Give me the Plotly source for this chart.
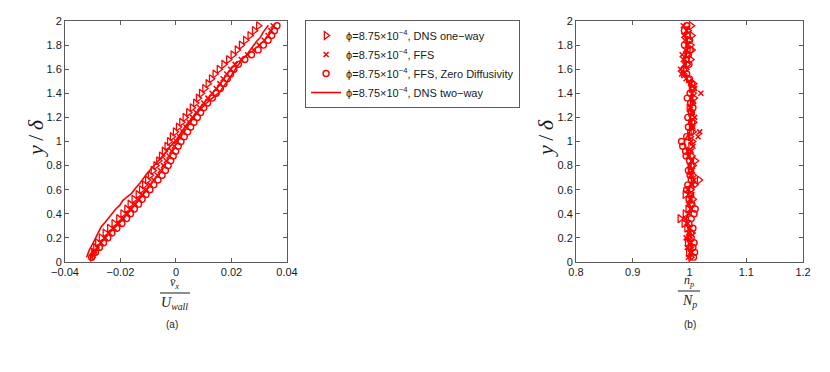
import plotly.graph_objects as go
from plotly.subplots import make_subplots

RED = "#ff0000"
FRAME = "#5a5a5a"

# wall-normal positions shared by the marker series
Y_POS = [0.04, 0.08, 0.12, 0.16, 0.20, 0.24, 0.28, 0.32, 0.36, 0.40,
         0.44, 0.48, 0.52, 0.56, 0.60, 0.64, 0.68, 0.72, 0.76, 0.80,
         0.84, 0.88, 0.92, 0.96, 1.00, 1.04, 1.08, 1.12, 1.16, 1.20,
         1.24, 1.28, 1.32, 1.36, 1.40, 1.44, 1.48, 1.52, 1.56, 1.60,
         1.64, 1.68, 1.72, 1.76, 1.80, 1.84, 1.88, 1.92, 1.96]

# (a) mean particle velocity / U_wall
VX_ONEWAY = [-0.0302, -0.0298, -0.0290, -0.0283, -0.0270, -0.0256, -0.0240, -0.0224, -0.0207, -0.0192,
             -0.0178, -0.0166, -0.0152, -0.0137, -0.0125, -0.0114, -0.0103, -0.0093, -0.0083, -0.0073,
             -0.0063, -0.0053, -0.0043, -0.0033, -0.0024, -0.0014, -0.0003, 0.0008, 0.0020, 0.0032,
             0.0045, 0.0058, 0.0070, 0.0080, 0.0091, 0.0103, 0.0115, 0.0127, 0.0140, 0.0155,
             0.0172, 0.0189, 0.0205, 0.0220, 0.0235, 0.0250, 0.0266, 0.0282, 0.0297]
VX_FFS = [-0.0303, -0.0294, -0.0283, -0.0270, -0.0255, -0.0240, -0.0223, -0.0206, -0.0190, -0.0175,
          -0.0161, -0.0147, -0.0133, -0.0119, -0.0106, -0.0093, -0.0080, -0.0067, -0.0056, -0.0045,
          -0.0035, -0.0025, -0.0015, -0.0006, 0.0002, 0.0013, 0.0025, 0.0036, 0.0048, 0.0060,
          0.0073, 0.0086, 0.0100, 0.0115, 0.0130, 0.0145, 0.0158, 0.0170, 0.0183, 0.0197,
          0.0213, 0.0235, 0.0258, 0.0280, 0.0300, 0.0318, 0.0332, 0.0342, 0.0350]
VX_FFS_ZD = [-0.0304, -0.0290, -0.0276, -0.0261, -0.0246, -0.0231, -0.0213, -0.0195, -0.0178, -0.0164,
             -0.0150, -0.0135, -0.0122, -0.0108, -0.0094, -0.0080, -0.0065, -0.0050, -0.0038, -0.0028,
             -0.0019, -0.0010, -0.0001, 0.0008, 0.0018, 0.0030, 0.0042, 0.0053, 0.0065, 0.0077,
             0.0089, 0.0100, 0.0114, 0.0131, 0.0145, 0.0160, 0.0173, 0.0185, 0.0197, 0.0209,
             0.0225, 0.0248, 0.0272, 0.0296, 0.0315, 0.0332, 0.0345, 0.0355, 0.0364]
Y_TWOWAY = [0.04, 0.10, 0.17, 0.22, 0.29, 0.33, 0.38, 0.44, 0.47, 0.51, 0.54, 0.57,
            0.62, 0.66, 0.73, 0.78, 0.84, 0.90, 0.96, 1.01, 1.08, 1.13, 1.20, 1.26,
            1.34, 1.41, 1.48, 1.55, 1.62, 1.68, 1.72, 1.78, 1.83, 1.86, 1.91, 1.965]
VX_TWOWAY = [-0.0322, -0.0312, -0.0296, -0.0284, -0.0270, -0.0255, -0.0238, -0.0217, -0.0203, -0.0192,
             -0.0176, -0.0160, -0.0143, -0.0128, -0.0106, -0.0086, -0.0062, -0.0040, -0.0020, 0.0000,
             0.0020, 0.0035, 0.0060, 0.0085, 0.0120, 0.0157, 0.0180, 0.0200, 0.0220, 0.0238,
             0.0255, 0.0273, 0.0290, 0.0303, 0.0315, 0.0333]

# (b) normalised particle number density
NP_ONEWAY = [1.002, 0.998, 1.001, 0.996, 0.999, 1.004, 0.995, 0.990, 0.983, 0.992,
             0.997, 1.003, 1.006, 0.992, 1.002, 1.009, 1.017, 1.006, 1.001, 1.006,
             1.010, 1.004, 0.999, 1.002, 1.005, 1.001, 1.006, 1.003, 1.007, 1.004,
             1.002, 0.999, 1.005, 1.008, 1.006, 1.003, 1.007, 0.998, 0.989, 0.993,
             0.996, 1.002, 0.995, 1.004, 1.002, 0.999, 1.004, 0.997, 1.003]
NP_FFS = [0.998, 1.004, 0.996, 1.003, 0.994, 0.998, 1.001, 0.997, 0.993, 0.999,
          1.002, 0.998, 1.001, 1.004, 0.997, 1.005, 1.008, 1.002, 1.005, 1.000,
          1.004, 0.998, 1.003, 1.006, 1.003, 1.015, 1.018, 1.006, 1.002, 1.009,
          1.005, 1.001, 1.006, 1.004, 1.020, 1.009, 1.002, 0.994, 0.986, 0.984,
          0.991, 0.989, 0.987, 0.993, 0.996, 0.992, 0.990, 0.995, 0.989]
NP_FFS_ZD = [1.007, 1.009, 1.006, 1.008, 1.003, 1.002, 1.006, 0.999, 1.003, 1.008,
             1.010, 1.004, 0.999, 1.002, 0.995, 0.997, 1.003, 1.001, 0.998, 1.003,
             1.000, 0.994, 0.993, 0.988, 0.986, 0.995, 1.002, 0.998, 1.004, 0.997,
             1.003, 1.006, 1.002, 0.996, 1.001, 1.006, 1.004, 1.000, 0.995, 0.990,
             0.999, 0.994, 0.998, 1.001, 0.991, 1.000, 0.996, 0.991, 0.995]
NP_TWOWAY = [1.003, 1.000, 1.004, 0.998, 1.001, 1.003, 0.997, 0.995, 0.994, 0.998,
             1.002, 1.000, 1.003, 0.999, 0.997, 1.001, 1.004, 1.002, 0.999, 1.001,
             1.003, 0.999, 0.996, 0.992, 0.991, 0.996, 1.000, 1.002, 0.999, 1.001,
             1.003, 1.000, 1.002, 1.001, 1.004, 1.002, 1.000, 0.996, 0.991, 0.989,
             0.993, 0.992, 0.995, 0.997, 0.994, 0.996, 0.993, 0.995, 0.998]

LABEL = "\u03d5=8.75\u00d710<sup>\u22124</sup>, "
NAMES = [LABEL + "DNS one\u2212way", LABEL + "FFS",
         LABEL + "FFS, Zero Diffusivity", LABEL + "DNS two\u2212way"]

SANS = "Liberation Sans, Arial, sans-serif"
TICK_FONT = dict(family=SANS, size=11, color="#1a1a1a")
MATH_FONT = "Liberation Serif, Times New Roman, serif"

# the page body adds an 8px margin, so the figure is 8px smaller than the window
W, H = 822, 364

fig = make_subplots(rows=1, cols=2)

marker_styles = [
    dict(symbol="triangle-right-open", size=7, color=RED, line=dict(width=1.3, color=RED)),
    dict(symbol="x-thin-open", size=5, color=RED, line=dict(width=1.5, color=RED)),
    dict(symbol="circle-open", size=6, color=RED, line=dict(width=1.4, color=RED)),
]

# panel (a)
for name, xs, mk in zip(NAMES[:3], [VX_ONEWAY, VX_FFS, VX_FFS_ZD], marker_styles):
    fig.add_trace(go.Scatter(x=xs, y=Y_POS, mode="markers", marker=mk, name=name,
                             legendgroup=name), row=1, col=1)
fig.add_trace(go.Scatter(x=VX_TWOWAY, y=Y_TWOWAY, mode="lines", name=NAMES[3],
                         legendgroup=NAMES[3], line=dict(color=RED, width=1.6)), row=1, col=1)

# panel (b)
for name, xs, mk in zip(NAMES[:3], [NP_ONEWAY, NP_FFS, NP_FFS_ZD], marker_styles):
    fig.add_trace(go.Scatter(x=xs, y=Y_POS, mode="markers", marker=mk, name=name,
                             legendgroup=name, showlegend=False), row=1, col=2)
fig.add_trace(go.Scatter(x=NP_TWOWAY, y=Y_POS, mode="lines", name=NAMES[3],
                         legendgroup=NAMES[3], showlegend=False,
                         line=dict(color=RED, width=1.6)), row=1, col=2)

axis_common = dict(showgrid=False, zeroline=False, showline=True, linecolor=FRAME,
                   linewidth=1, mirror="ticks", ticks="inside", ticklen=4,
                   tickcolor=FRAME, tickfont=TICK_FONT, automargin=False)

fig.update_xaxes(axis_common)
fig.update_yaxes(axis_common)
fig.update_xaxes(domain=[0.0693, 0.3394], range=[-0.04, 0.04], dtick=0.02, row=1, col=1)
fig.update_xaxes(domain=[0.6910, 0.9672], range=[0.8, 1.2], dtick=0.1, row=1, col=2)
fig.update_yaxes(domain=[0.3022, 0.9643], range=[0, 2], dtick=0.2)

YLAB = "<i>y</i>\u2009/\u2009<i>\u03b4</i>"
BAR_A, BAR_B = 0.2170, 0.2225
annotations = [
    # y labels
    dict(x=0.034, y=0.643, text=YLAB, textangle=-90, font_size=22, yanchor="middle"),
    dict(x=0.6545, y=0.643, text=YLAB, textangle=-90, font_size=22, yanchor="middle"),
    # panel (a) x-label fraction
    dict(x=0.203, y=BAR_A + 0.002, text="<i>v\u0304</i><sub><i>x</i></sub>",
         font_size=12, yanchor="bottom"),
    dict(x=0.203, y=BAR_A - 0.003, text="<i>U</i><sub><i>wall</i></sub>",
         font_size=14, yanchor="top"),
    # panel (b) x-label fraction
    dict(x=0.8285, y=BAR_B + 0.002, text="<i>n</i><sub><i>p</i></sub>",
         font_size=12, yanchor="bottom"),
    dict(x=0.8285, y=BAR_B - 0.003, text="<i>N</i><sub><i>p</i></sub>",
         font_size=14, yanchor="top"),
]
for a in annotations:
    a.update(xref="paper", yref="paper", showarrow=False, xanchor="center",
             borderpad=0,
             font=dict(family=MATH_FONT, size=a.pop("font_size"), color="#1a1a1a"))
for x, txt in [(0.1995, "(a)"), (0.8297, "(b)")]:
    annotations.append(dict(x=x, y=0.130, xref="paper", yref="paper", showarrow=False,
                            xanchor="center", yanchor="middle",
                            text=txt, font=dict(family=SANS, size=10, color="#1a1a1a")))

shapes = [
    dict(type="line", xref="paper", yref="paper", x0=0.185, x1=0.2214, y0=BAR_A, y1=BAR_A,
         line=dict(color="#1a1a1a", width=1)),
    dict(type="line", xref="paper", yref="paper", x0=0.815, x1=0.8418, y0=BAR_B, y1=BAR_B,
         line=dict(color="#1a1a1a", width=1)),
]

fig.update_layout(
    width=W, height=H,
    margin=dict(l=0, r=0, t=0, b=0, autoexpand=False),
    paper_bgcolor="white", plot_bgcolor="white",
    annotations=annotations, shapes=shapes,
    showlegend=True,
    legend=dict(x=0.3614, y=0.967, xanchor="left", yanchor="top",
                bgcolor="white", bordercolor=FRAME, borderwidth=1,
                font=dict(family=SANS, size=11, color="#1a1a1a"),
                itemwidth=30, tracegroupgap=0),
)

fig.write_html("out.html")
